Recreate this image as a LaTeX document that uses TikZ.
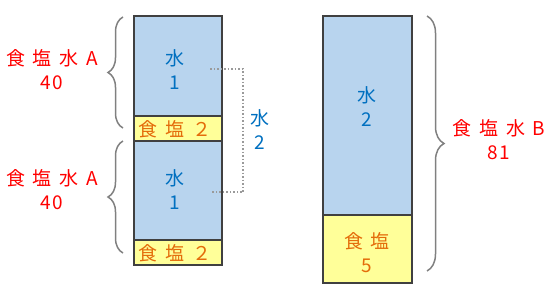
\documentclass[tikz,border=0pt]{standalone}
\usepackage{fontspec}
\usepackage{xcolor}
\usepackage{tikz}
\usetikzlibrary{decorations.pathreplacing}
\newfontfamily\jpfont[LetterSpace=40]{Noto Sans CJK JP}
\newfontfamily\jpdigits[LetterSpace=10]{Noto Sans CJK JP}
\definecolor{waterfill}{RGB}{184,212,238}
\definecolor{saltfill}{RGB}{255,255,153}
\definecolor{boxline}{RGB}{64,64,64}
\definecolor{watertext}{RGB}{0,112,192}
\definecolor{salttext}{RGB}{228,108,10}
\definecolor{bracegray}{RGB}{128,128,128}

\begin{document}
\begin{tikzpicture}[x=1pt,y=-1pt,
    font=\jpfont\fontsize{19}{24}\selectfont,
    box/.style={draw=boxline, line width=2.5pt, anchor=north west, inner sep=0pt, outer sep=0pt, minimum width=88pt},
    waterbox/.style={box, fill=waterfill},
    saltbox/.style={box, fill=saltfill},
    wlabel/.style={text=watertext, align=center, inner sep=0pt},
    slabel/.style={text=salttext, align=center, inner sep=0pt},
    mixlabel/.style={text=red, align=center, inner sep=0pt},
    bracepath/.style={draw=bracegray, line width=1.5pt, decorate, decoration={brace, amplitude=15pt}}]
    \useasboundingbox (0,0) rectangle (554,292);
    % Boxes
    \node[waterbox, minimum height=100pt] (w1) at (134,16) {};
    \node[saltbox, minimum height=25pt] (s1) at (134,116) {};
    \node[waterbox, minimum height=99pt] (w2) at (134,141) {};
    \node[saltbox, minimum height=25pt] (s2) at (134,240) {};
    \node[waterbox, minimum width=89pt, minimum height=199pt] (wb) at (323,16) {};
    \node[saltbox, minimum width=89pt, minimum height=68pt] (sb) at (323,215) {};
    % Texts in the boxes
    \node[wlabel] (tw1) at (175,70) {水\\1};
    \node[slabel] (ts1) at (175,129) {食塩２};
    \node[wlabel] (tw2) at (175,190) {水\\1};
    \node[slabel] (ts2) at (175,253) {食塩２};
    \node[wlabel] (twb) at (367,107) {水\\2};
    \node[slabel] (tsb) at (367,253) {食塩\\5};
    % Braces
    \coordinate (b1s) at (123,128);
    \coordinate (b1e) at (123,17);
    \coordinate (b2s) at (123,253);
    \coordinate (b2e) at (123,141);
    \coordinate (b3s) at (427,16);
    \coordinate (b3e) at (427,271);
    \draw[bracepath] (b1s) -- (b1e);
    \draw[bracepath] (b2s) -- (b2e);
    \draw[bracepath, decoration={amplitude=17pt}] (b3s) -- (b3e);
    \node[mixlabel] (la1) at (52,70) {食塩水A\\{\jpdigits 40}};
    \node[mixlabel] (la2) at (52,190) {食塩水A\\{\jpdigits 40}};
    \node[mixlabel] (lb) at (499,140) {食塩水B\\{\jpdigits 81}};
    % Dotted link
    \coordinate (d1) at (210,69);
    \coordinate (dv) at (243,130);
    \coordinate (d2) at (210,192);
    \draw[bracegray!80, line width=1.5pt, dotted] (d1) -| (dv) |- (d2);
    \node[wlabel] (tw) at (260,130) {水\\2};
\end{tikzpicture}
\end{document}
